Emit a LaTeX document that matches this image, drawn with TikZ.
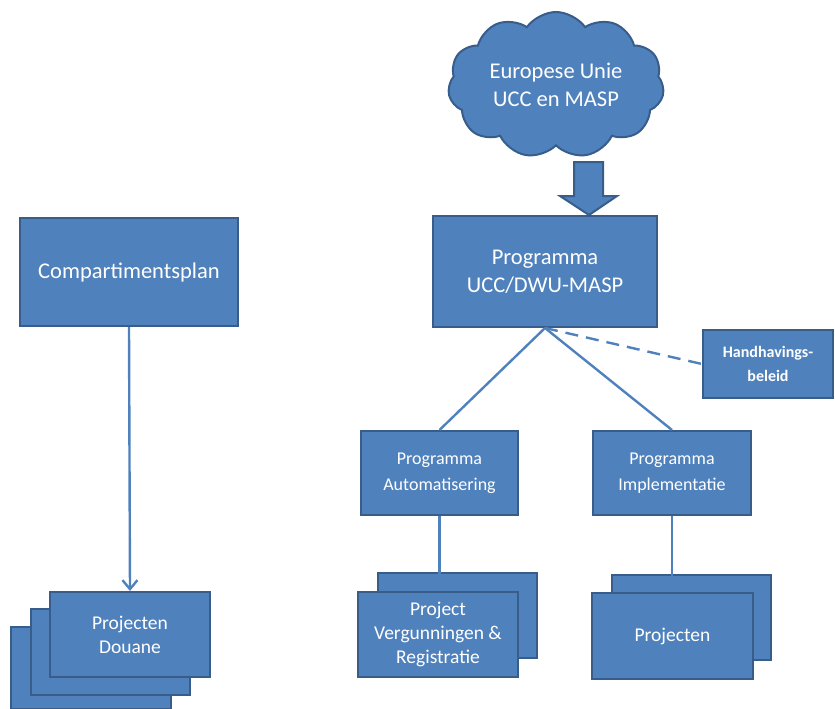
\documentclass[tikz,border=0pt]{standalone}
\usepackage{fontspec}
\setmainfont{Carlito}
\usetikzlibrary{shapes.symbols,arrows.meta}
\definecolor{boxfill}{HTML}{4F81BD}
\definecolor{boxline}{HTML}{385D8A}
\begin{document}
\begin{tikzpicture}[x=1pt,y=-1pt,
  blk/.style={draw=boxline,line width=2pt,fill=boxfill,text=white,align=center,inner sep=0pt},
  conn/.style={draw=boxfill,line width=2.4pt},
  txtL/.style={font=\fontsize{22.5}{28}\selectfont},
  txtP/.style={font=\fontsize{18}{26}\selectfont},
  txtM/.style={font=\fontsize{19.5}{24}\selectfont},
  txtS/.style={font=\bfseries\fontsize{16}{24}\selectfont}]
\useasboundingbox (0,0) rectangle (835,709);
% cloud
\node[blk,cloud,cloud puffs=11,cloud puff arc=110,cloud ignores aspect,minimum width=216,minimum height=146,txtL] (eu) at (556,85) {Europese Unie\\UCC en MASP};
% block arrow
\draw[draw=boxline,line width=2pt,fill=boxfill] (574,162) -- (603,162) -- (603,196) -- (617,196) -- (589,215) -- (560,196) -- (574,196) -- cycle;
% left
\node[blk,minimum width=218,minimum height=108,txtL] (comp) at (129,272) {Compartimentsplan};
\node[blk,minimum width=160,minimum height=82] (d3) at (91,668) {};
\node[blk,minimum width=159,minimum height=86] (d2) at (110.5,652) {};
\node[blk,minimum width=160,minimum height=85,txtM] (d1) at (130,634.5) {Projecten\\Douane};
\draw[conn,-{Straight Barb[length=9pt,width=15pt,line width=2.4pt]}] (comp.south) -- (d1.north);
% main program
\node[blk,minimum width=224,minimum height=111,txtL] (ucc) at (545,271.5) {Programma\\UCC/DWU-MASP};
\node[blk,minimum width=130,minimum height=68,txtS] (hh) at (768,364) {Handhavings-\\beleid};
\node[blk,minimum width=157,minimum height=84,txtP] (aut) at (439.5,473) {Programma\\Automatisering};
\node[blk,minimum width=158,minimum height=84,txtP] (imp) at (672,473) {Programma\\Implementatie};
\draw[conn] (ucc.south) -- (aut.north);
\draw[conn] (ucc.south) -- (imp.north);
\draw[conn,dash pattern=on 13pt off 8pt] (ucc.south) -- (hh.west);
% project stacks
\node[blk,minimum width=159,minimum height=85] (pv2) at (457.5,615.5) {};
\node[blk,minimum width=160,minimum height=85,txtM] (pv1) at (438,634.5) {Project\\Vergunningen \&\\Registratie};
\draw[conn] (aut.south) -- (aut.south |- pv1.north);
\node[blk,minimum width=159,minimum height=85] (pi2) at (691.5,617.5) {};
\node[blk,minimum width=161,minimum height=86,txtM] (pi1) at (672.5,636) {Projecten};
\draw[conn] (imp.south) -- (imp.south |- pi1.north);
\end{tikzpicture}
\end{document}
